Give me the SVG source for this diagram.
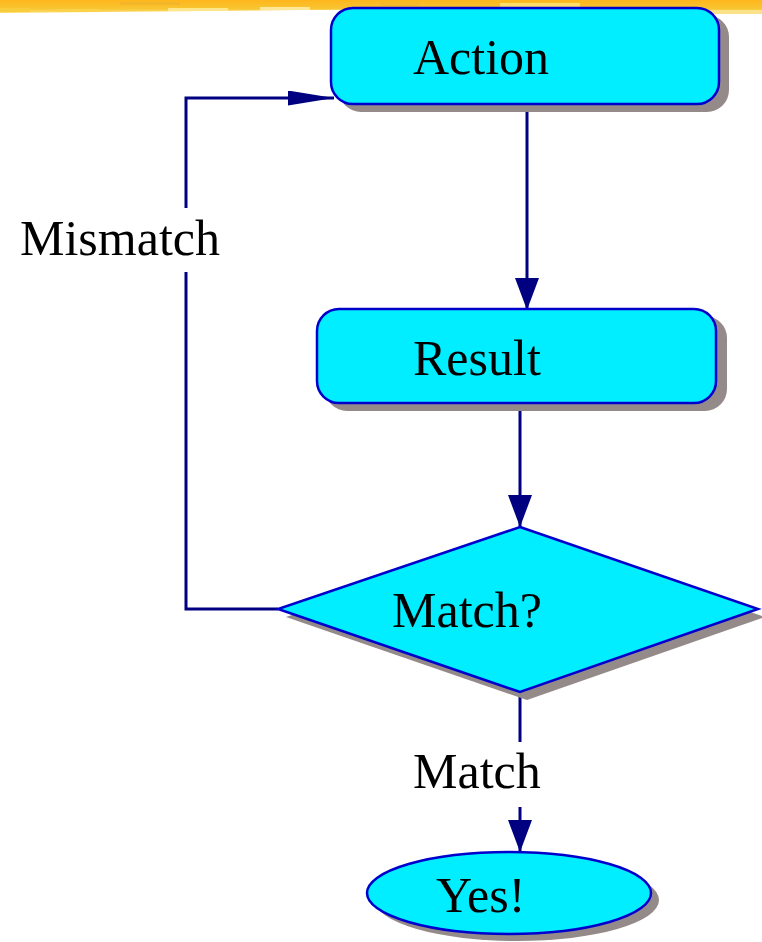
<svg xmlns="http://www.w3.org/2000/svg" width="762" height="942" viewBox="0 0 762 942">
  <defs>
    <style>
      .node { fill: #00eeff; stroke: #0000cc; stroke-width: 2.5; }
      .shadow { fill: #948a8a; }
      .edge { fill: none; stroke: #000080; stroke-width: 3; }
      .label { font-family: "Liberation Serif", "Times New Roman", serif; font-size: 50px; fill: #000; }
    </style>
    <marker id="arrow" viewBox="0 0 32 24" refX="32" refY="12" markerWidth="32" markerHeight="24" markerUnits="userSpaceOnUse" orient="auto">
      <path d="M0,0 L32,12 L0,24 Z" fill="#000080"/>
    </marker>
    <marker id="arrow-long" viewBox="0 0 46 15" refX="46" refY="7.5" markerWidth="46" markerHeight="15" markerUnits="userSpaceOnUse" orient="auto">
      <path d="M0,0 L46,7.5 L0,15 Z" fill="#000080"/>
    </marker>
    <linearGradient id="band" x1="0" y1="0" x2="0" y2="1">
      <stop offset="0" stop-color="#ffb61c"/>
      <stop offset="0.6" stop-color="#f8c531"/>
      <stop offset="1" stop-color="#ffe27a"/>
    </linearGradient>
  </defs>

  <!-- decorative header band -->
  <g id="header-band">
    <path d="M0,0 H762 V14 L700,12 L500,9 L300,10 L100,12 L0,13 Z" fill="url(#band)"/>
    <rect x="0" y="8" width="30" height="4" fill="#f9cc3c"/>
    <rect x="58" y="9" width="40" height="3" fill="#fbd24a"/>
    <rect x="168" y="8" width="60" height="3" fill="#ffe68a"/>
    <rect x="260" y="7" width="50" height="3" fill="#ffe79a"/>
    <rect x="500" y="3" width="80" height="5" fill="#ffde6a"/>
    <rect x="700" y="10" width="62" height="4" fill="#fbe28a"/>
    <rect x="120" y="2" width="60" height="3" fill="#f3b62a"/>
    <rect x="380" y="2" width="40" height="4" fill="#f7b82a"/>
  </g>

  <!-- connectors -->
  <g id="connectors">
    <line class="edge" x1="527" y1="111" x2="527" y2="310" marker-end="url(#arrow)"/>
    <line class="edge" x1="520" y1="410" x2="520" y2="527" marker-end="url(#arrow)"/>
    <path class="edge" d="M278,609 H186 V272"/>
    <path class="edge" d="M186,208 V98 H334" marker-end="url(#arrow-long)"/>
    <line class="edge" x1="520" y1="692" x2="520" y2="742"/>
    <line class="edge" x1="520" y1="807" x2="520" y2="852" marker-end="url(#arrow)"/>
    <text class="label" x="20" y="255">Mismatch</text>
    <text class="label" x="413" y="788">Match</text>
  </g>

  <g id="action">
    <rect class="shadow" x="339" y="15" width="390" height="97" rx="22"/>
    <rect class="node" x="331" y="8" width="388" height="96" rx="22"/>
    <text class="label" x="413" y="74">Action</text>
  </g>

  <g id="result">
    <rect class="shadow" x="325" y="316" width="402" height="95" rx="22"/>
    <rect class="node" x="317" y="309" width="399" height="94" rx="22"/>
    <text class="label" x="413" y="375">Result</text>
  </g>

  <g id="decision">
    <polygon class="shadow" points="527,535 765,617 527,700 286,617"/>
    <polygon class="node" points="520,527 758,609 520,692 278,609"/>
    <text class="label" x="392" y="627">Match?</text>
  </g>

  <g id="yes">
    <ellipse class="shadow" cx="517" cy="900" rx="142" ry="41"/>
    <ellipse class="node" cx="509" cy="893" rx="142" ry="41"/>
    <text class="label" x="436" y="912">Yes!</text>
  </g>
</svg>
